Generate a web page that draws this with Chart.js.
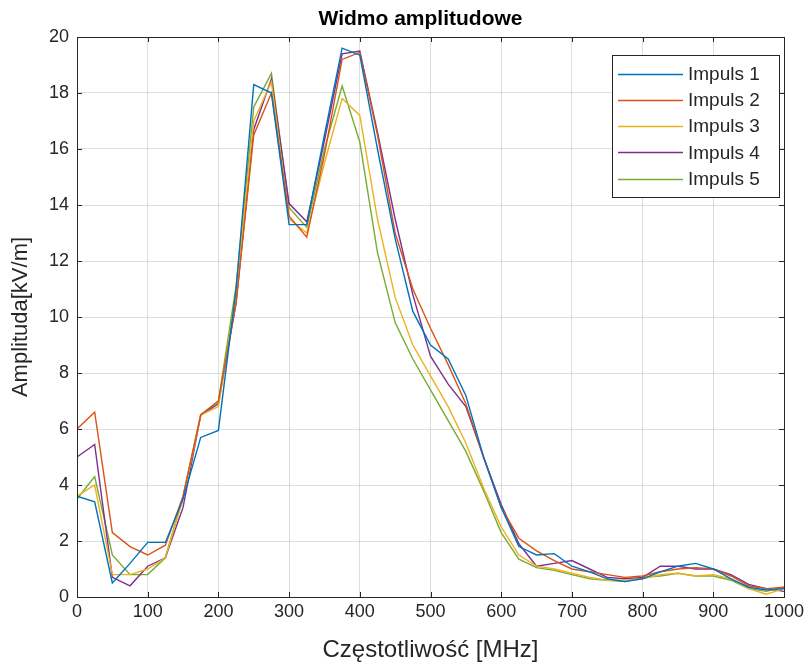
<!DOCTYPE html>
<html>
<head>
<meta charset="utf-8">
<script src="https://cdn.jsdelivr.net/npm/chart.js@4.4.1/dist/chart.umd.min.js"></script>
<style>
  html, body { margin: 0; padding: 0; background: #fff; }
  #wrap { width: 812px; height: 666px; }
</style>
</head>
<body>
<div id="wrap"><canvas id="chart" width="812" height="666"></canvas></div>
<script>
// frequency axis, 25 MHz step
const freqs = [0, 25, 50, 75, 100, 125, 150, 175, 200, 225, 250, 275, 300, 325, 350, 375, 400, 425, 450, 475,
    500, 525, 550, 575, 600, 625, 650, 675, 700, 725, 750, 775, 800, 825, 850, 875, 900, 925, 950, 975, 1000];

const impuls1 = [3.6, 3.4, 0.5, 1.2, 1.95, 1.95, 3.5, 5.7, 5.95, 11.0, 18.3, 18.0, 13.3, 13.3, 16.5, 19.6, 19.35, 16.0, 12.8, 10.2,
    9.0, 8.5, 7.2, 5.0, 3.2, 1.8, 1.5, 1.55, 1.1, 0.9, 0.65, 0.55, 0.65, 0.9, 1.1, 1.2, 1.0, 0.65, 0.35, 0.25, 0.3];
const impuls2 = [6.0, 6.6, 2.3, 1.8, 1.5, 1.85, 3.6, 6.5, 7.0, 10.5, 16.5, 18.0, 13.6, 12.85, 15.8, 19.2, 19.45, 16.5, 13.0, 11.0,
    9.6, 8.3, 6.9, 5.0, 3.2, 2.1, 1.65, 1.3, 1.0, 0.9, 0.8, 0.7, 0.75, 0.9, 1.0, 1.05, 1.0, 0.75, 0.4, 0.3, 0.35];
const impuls3 = [3.6, 4.0, 0.8, 0.8, 1.0, 1.4, 3.5, 6.5, 6.8, 10.8, 17.0, 18.4, 13.5, 13.0, 15.5, 17.8, 17.2, 13.5, 10.7, 9.0,
    7.9, 6.8, 5.5, 3.9, 2.5, 1.5, 1.1, 1.0, 0.85, 0.7, 0.6, 0.6, 0.65, 0.8, 0.85, 0.75, 0.8, 0.65, 0.3, 0.1, 0.3];
const impuls4 = [5.0, 5.45, 0.7, 0.4, 1.1, 1.4, 3.2, 6.5, 6.9, 10.5, 16.7, 18.5, 14.05, 13.4, 16.3, 19.4, 19.5, 16.6, 13.5, 10.8,
    8.6, 7.6, 6.8, 5.0, 3.3, 1.9, 1.1, 1.2, 1.3, 1.0, 0.7, 0.65, 0.7, 1.1, 1.1, 1.0, 1.0, 0.8, 0.45, 0.3, 0.2];
const impuls5 = [3.5, 4.3, 1.5, 0.8, 0.8, 1.4, 3.6, 6.5, 7.0, 11.1, 17.5, 18.7, 13.9, 13.2, 16.0, 18.25, 16.25, 12.3, 9.8, 8.5,
    7.4, 6.3, 5.2, 3.8, 2.3, 1.35, 1.05, 0.95, 0.8, 0.65, 0.6, 0.55, 0.7, 0.75, 0.85, 0.75, 0.75, 0.6, 0.3, 0.2, 0.35];

const seriesLabels = ['Impuls 1', 'Impuls 2', 'Impuls 3', 'Impuls 4', 'Impuls 5'];
const seriesValues = [impuls1, impuls2, impuls3, impuls4, impuls5];
const seriesColors = ['#0072BD', '#D95319', '#EDB120', '#7E2F8E', '#77AC30'];

const xTicks = [0, 100, 200, 300, 400, 500, 600, 700, 800, 900, 1000];
const yTicks = [0, 2, 4, 6, 8, 10, 12, 14, 16, 18, 20];

const FONT = 'Liberation Sans, Arial, Helvetica, sans-serif';
const AXIS_COLOR = '#262626';

// box, inward ticks, title and legend in matlab style
const matlabFrame = {
    id: 'matlabFrame',
    afterDraw(chart) {
        const ctx = chart.ctx;
        const area = chart.chartArea;
        const xs = chart.scales.x;
        const ys = chart.scales.y;
        const tickLen = 5;

        ctx.save();
        ctx.strokeStyle = AXIS_COLOR;
        ctx.lineWidth = 1;
        ctx.beginPath();
        xTicks.forEach(v => {
            const px = Math.round(xs.getPixelForValue(v)) + 0.5;
            ctx.moveTo(px, area.bottom); ctx.lineTo(px, area.bottom - tickLen);
            ctx.moveTo(px, area.top); ctx.lineTo(px, area.top + tickLen);
        });
        yTicks.forEach(v => {
            const py = Math.round(ys.getPixelForValue(v)) + 0.5;
            ctx.moveTo(area.left, py); ctx.lineTo(area.left + tickLen, py);
            ctx.moveTo(area.right, py); ctx.lineTo(area.right - tickLen, py);
        });
        ctx.stroke();
        ctx.strokeRect(Math.round(area.left) + 0.5, Math.round(area.top) + 0.5,
            Math.round(area.right - area.left), Math.round(area.bottom - area.top));

        // title
        ctx.fillStyle = '#000';
        ctx.font = 'bold 21px ' + FONT;
        ctx.textAlign = 'center';
        ctx.textBaseline = 'middle';
        ctx.fillText('Widmo amplitudowe', (area.left + area.right) / 2 - 10, 19);

        // legend box
        const boxRight = area.right - 5;
        const boxLeft = boxRight - 167;
        const boxTop = area.top + 18;
        const rowH = 26.3;
        const boxH = 142;
        ctx.fillStyle = '#fff';
        ctx.fillRect(boxLeft, boxTop, boxRight - boxLeft, boxH);
        ctx.strokeStyle = AXIS_COLOR;
        ctx.strokeRect(Math.round(boxLeft) + 0.5, Math.round(boxTop) + 0.5, Math.round(boxRight - boxLeft), boxH);
        ctx.font = '19px ' + FONT;
        ctx.textAlign = 'left';
        chart.data.datasets.forEach((ds, i) => {
            const cy = boxTop + 18.5 + i * rowH;
            ctx.strokeStyle = ds.borderColor;
            ctx.lineWidth = 1.3;
            ctx.beginPath();
            ctx.moveTo(boxLeft + 6, Math.round(cy) + 0.5);
            ctx.lineTo(boxLeft + 71, Math.round(cy) + 0.5);
            ctx.stroke();
            ctx.fillStyle = '#262626';
            ctx.fillText(ds.label, boxLeft + 76, cy + 1);
        });
        ctx.restore();
    }
};

const datasets = seriesValues.map((vals, i) => ({
    label: seriesLabels[i],
    data: freqs.map((f, j) => ({ x: f, y: vals[j] })),
    borderColor: seriesColors[i],
    backgroundColor: seriesColors[i],
    borderWidth: 1.4,
    pointRadius: 0,
    tension: 0,
    fill: false,
}));

new Chart(document.getElementById('chart').getContext('2d'), {
    type: 'line',
    data: { datasets },
    options: {
        responsive: false,
        animation: false,
        layout: { padding: { left: 0, right: 28, top: 37, bottom: 0 } },
        plugins: {
            legend: { display: false },
            title: { display: false },
            tooltip: { enabled: false },
        },
        scales: {
            x: {
                type: 'linear',
                min: 0,
                max: 1000,
                afterFit: scale => { scale.height = 69; },
                afterBuildTicks: scale => { scale.ticks = xTicks.map(v => ({ value: v })); },
                grid: { color: 'rgba(0,0,0,0.13)', drawTicks: false },
                border: { display: false },
                ticks: {
                    color: AXIS_COLOR, padding: 4, maxRotation: 0,
                    font: { family: FONT, size: 18 },
                    callback: v => String(v),
                },
                title: {
                    display: true,
                    text: 'Częstotliwość [MHz]',
                    color: AXIS_COLOR,
                    font: { family: FONT, size: 24 },
                    padding: { top: 0, bottom: 1 },
                },
            },
            y: {
                min: 0,
                max: 20,
                afterFit: scale => { scale.width = 77; },
                afterBuildTicks: scale => { scale.ticks = yTicks.map(v => ({ value: v })); },
                grid: { color: 'rgba(0,0,0,0.13)', drawTicks: false },
                border: { display: false },
                ticks: {
                    color: AXIS_COLOR, padding: 8,
                    font: { family: FONT, size: 18 },
                    callback: v => String(v),
                },
                title: {
                    display: true,
                    text: 'Amplituda[kV/m]',
                    color: AXIS_COLOR,
                    font: { family: FONT, size: 22 },
                    padding: { top: 8, bottom: 0 },
                },
            },
        },
    },
    plugins: [matlabFrame],
});
</script>
</body>
</html>
